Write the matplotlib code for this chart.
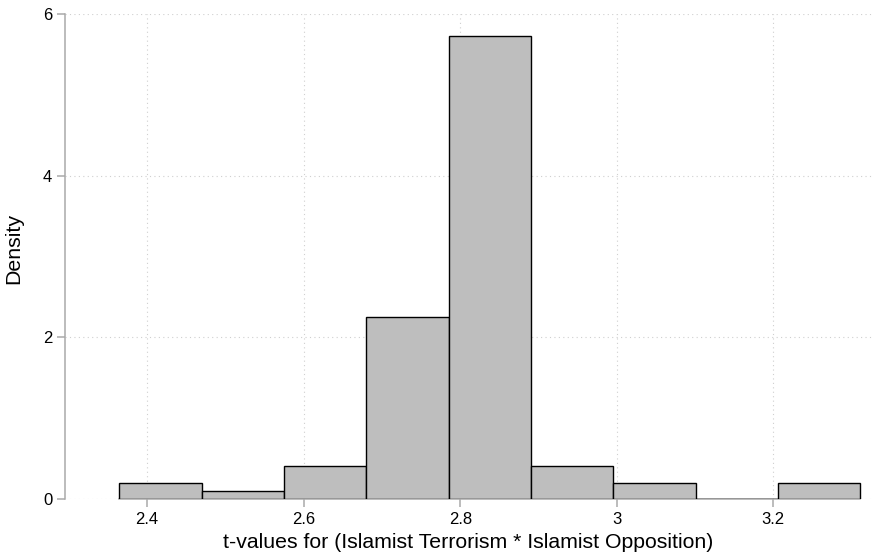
import matplotlib
matplotlib.use("Agg")
import matplotlib.pyplot as plt
import numpy as np

plt.rcParams['font.family'] = ['Liberation Sans', 'DejaVu Sans']

# histogram (density scale)
bin_start = 2.3646
bin_width = 0.10518
density = [0.204, 0.102, 0.409, 2.25, 5.73, 0.409, 0.204, 0.0, 0.204]
xticks = [2.4, 2.6, 2.8, 3.0, 3.2]
xticklabels = ["2.4", "2.6", "2.8", "3", "3.2"]
yticks = [0, 2, 4, 6]
xlabel = "t-values for (Islamist Terrorism * Islamist Opposition)"
ylabel = "Density"

axis_grey = "#a9a9a9"
grid_grey = "#cfcfcf"

fig = plt.figure(figsize=(8.75, 5.56), dpi=100)
ax = fig.add_axes([65/875, (556-499)/556, 807/875, 485/556])

lefts = bin_start + bin_width*np.arange(len(density))
ax.bar(lefts, density, width=bin_width, align='edge', color="#bebebe",
       edgecolor="black", linewidth=1.0, zorder=3)

ax.set_xlim(2.2952, 3.326)
ax.set_ylim(0, 6)
ax.set_xticks(xticks, xticklabels)
ax.set_yticks(yticks, [str(t) for t in yticks])

ax.grid(True, color=grid_grey, linestyle=(0, (1, 3)), linewidth=0.8)
ax.set_axisbelow(True)

for s in ["top", "right"]:
    ax.spines[s].set_visible(False)
ax.spines["left"].set_color(axis_grey)
ax.spines["left"].set_linewidth(1.1)
ax.spines["left"].set_bounds(0, 6)
ax.spines["bottom"].set_color(axis_grey)
ax.spines["bottom"].set_linewidth(1.1)
ax.spines["bottom"].set_bounds(bin_start, bin_start + bin_width*len(density))

ax.tick_params(axis="both", color=axis_grey, width=1.1, length=6, labelsize=12,
               labelcolor="black")
ax.tick_params(axis="x", pad=3.5)
ax.tick_params(axis="y", pad=3.2)

ax.set_xlabel(xlabel, fontsize=15.3, labelpad=4.5)
ax.set_ylabel(ylabel, fontsize=15.3)
ax.yaxis.set_label_coords(-0.052, 0.5175)

fig.savefig("out.png", dpi=100)
